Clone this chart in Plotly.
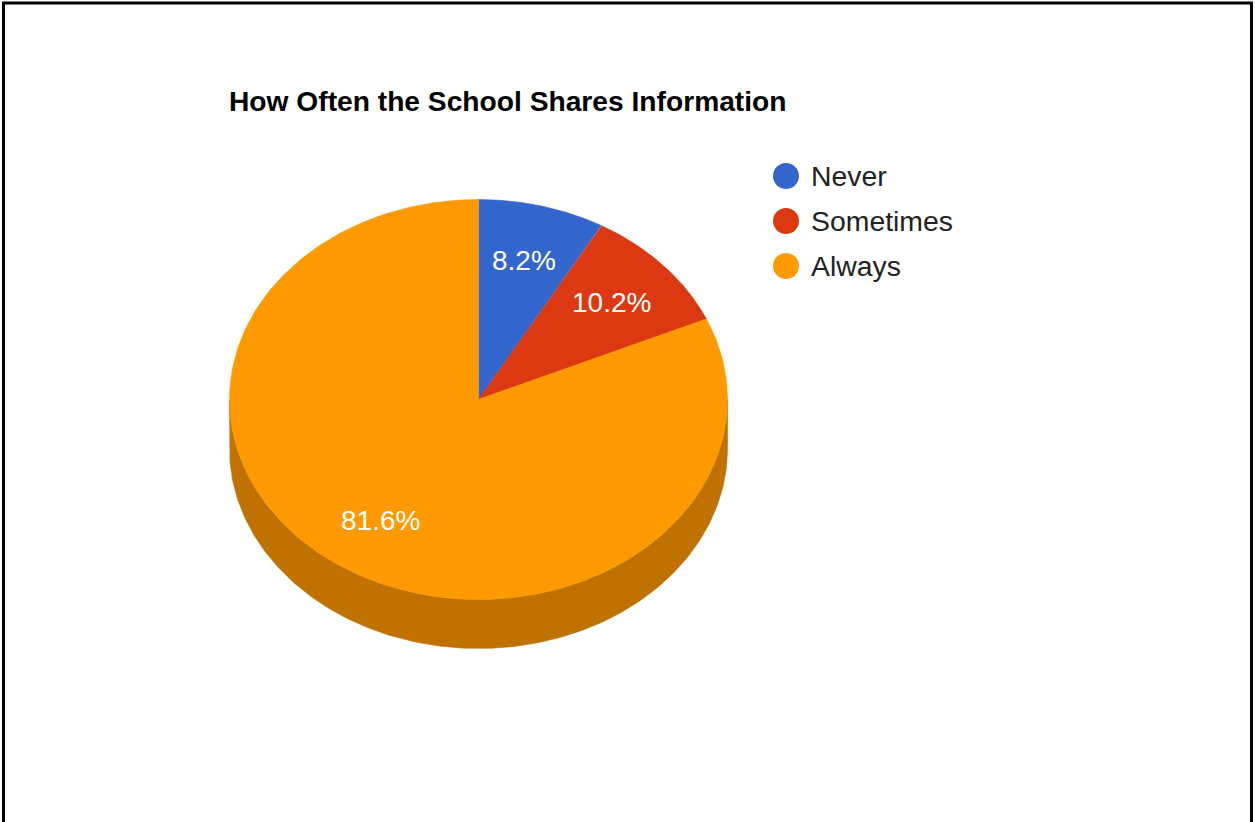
import numpy as np
import plotly.graph_objects as go

# Survey results
categories = ["Never", "Sometimes", "Always"]
percentages = [8.2, 10.2, 81.6]
colors = ["#3366CC", "#DC3912", "#FF9900"]
title_text = "How Often the School Shares Information"

W, H = 1255, 822
# Tilted pie geometry (pixel units on the plotting axes)
CX, CY = 478.5, 399.5
RX, RY = 249.0, 200.0
DEPTH = 49.0
LABEL_R = 0.72
FONT = "Arial"


def darker(hex_color, f=0.75):
    h = hex_color.lstrip("#")
    r, g, b = (int(h[i:i + 2], 16) for i in (0, 2, 4))
    return "rgb(%d,%d,%d)" % (r * f, g * f, b * f)


def ellipse_pt(deg, dy=0.0, frac=1.0):
    # angle measured clockwise from 12 o'clock
    t = np.radians(deg)
    return CX + frac * RX * np.sin(t), CY - frac * RY * np.cos(t) + dy


fig = go.Figure()

total = sum(percentages)
bounds = np.concatenate([[0.0], np.cumsum(percentages) / total * 360.0])

# Side walls (front half only: 90 deg .. 270 deg)
for i, col in enumerate(colors):
    a1, a2 = max(bounds[i], 90.0), min(bounds[i + 1], 270.0)
    if a2 <= a1:
        continue
    ang = np.linspace(a1, a2, 200)
    tx, ty = ellipse_pt(ang)
    bx, by = ellipse_pt(ang[::-1], dy=DEPTH)
    fig.add_trace(go.Scatter(
        x=np.concatenate([tx, bx, tx[:1]]), y=np.concatenate([ty, by, ty[:1]]),
        mode="lines", fill="toself", fillcolor=darker(col),
        line=dict(width=0.6, color=darker(col)), hoverinfo="skip", showlegend=False))

# Top faces of the slices
for i, col in enumerate(colors):
    ang = np.linspace(bounds[i], bounds[i + 1], 300)
    ex, ey = ellipse_pt(ang)
    fig.add_trace(go.Scatter(
        x=np.concatenate([[CX], ex, [CX]]), y=np.concatenate([[CY], ey, [CY]]),
        mode="lines", fill="toself", fillcolor=col,
        line=dict(width=0.6, color=col), hoverinfo="skip", showlegend=False))

# Percentage labels
for i, p in enumerate(percentages):
    mid = (bounds[i] + bounds[i + 1]) / 2.0
    lx, ly = ellipse_pt(mid, frac=LABEL_R)
    fig.add_annotation(x=lx, y=ly, text="%.1f%%" % p, showarrow=False,
                       font=dict(family=FONT, size=28, color="white"),
                       xanchor="center", yanchor="middle")

# Legend: circle markers with labels
LEG_X, LEG_Y0, LEG_DY = 786.0, 176.0, 45.0
leg_y = [LEG_Y0 + LEG_DY * i for i in range(len(categories))]
fig.add_trace(go.Scatter(
    x=[LEG_X] * len(categories), y=leg_y, mode="markers",
    marker=dict(size=26, color=colors, line=dict(width=0)),
    hoverinfo="skip", showlegend=False))
for name, y in zip(categories, leg_y):
    fig.add_annotation(x=LEG_X + 23, y=y, text=name, showarrow=False,
                       font=dict(family=FONT, size=28.4, color="#222222"),
                       xanchor="left", yanchor="middle")

# Title
fig.add_annotation(x=227, y=101, text="<b>%s</b>" % title_text, showarrow=False,
                   font=dict(family=FONT, size=28.2, color="black"),
                   xanchor="left", yanchor="middle")

# Frame around the chart
fig.add_shape(type="rect", x0=3.5, x1=1251.5, y0=3, y1=H + 20,
              line=dict(color="black", width=3), fillcolor="rgba(0,0,0,0)", layer="above")

fig.update_layout(
    width=W, height=H,
    margin=dict(l=0, r=0, t=0, b=0),
    paper_bgcolor="white", plot_bgcolor="white",
    xaxis=dict(range=[0, W], visible=False, fixedrange=True),
    yaxis=dict(range=[H, 0], visible=False, fixedrange=True),
    showlegend=False,
)

fig.write_html("out.html", config={"displayModeBar": False})
